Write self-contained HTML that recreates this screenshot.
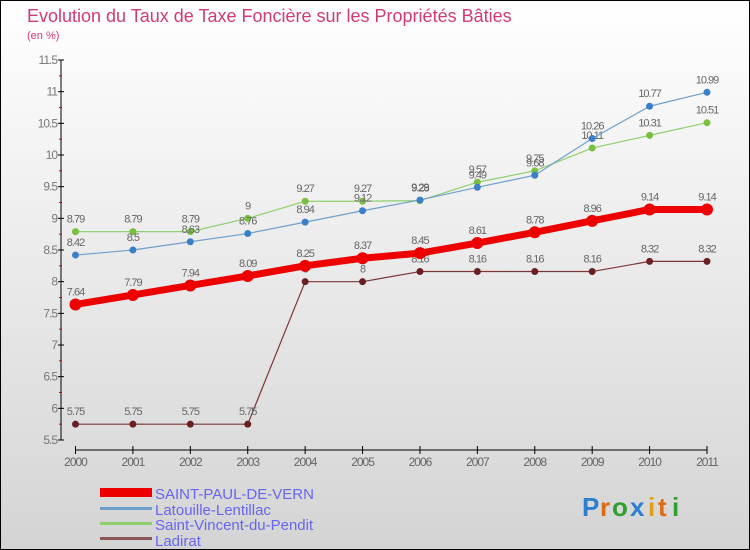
<!DOCTYPE html>
<html><head><meta charset="utf-8"><style>
body{margin:0}
#wrap{width:750px;height:550px;position:relative;overflow:hidden;font-family:"Liberation Sans",sans-serif}
</style></head><body>
<div id="wrap">
<svg id="svg" width="750" height="550" viewBox="0 0 750 550">
<defs><linearGradient id="bg" x1="0" y1="0" x2="0" y2="1"><stop offset="0" stop-color="#ffffff"/><stop offset="1" stop-color="#d4d4d4"/></linearGradient></defs>
<rect x="0.5" y="0.5" width="749" height="549" fill="url(#bg)" stroke="#000"/>
<text x="27" y="22" font-size="18" fill="#d03a78">Evolution du Taux de Taxe Foncière sur les Propriétés Bâties</text>
<text x="27" y="39" font-size="11" fill="#d03a78">(en %)</text>
<g id="axes"></g>
<g id="series"></g>
<g id="legend">
<rect x="100" y="488" width="52" height="9" fill="#ee0000"/>
<text x="155" y="499" font-size="15" fill="#6666ee">SAINT-PAUL-DE-VERN</text>
<rect x="100" y="507" width="52" height="3" fill="#6fa0cc"/>
<text x="155" y="515" font-size="15" fill="#6666ee">Latouille-Lentillac</text>
<rect x="100" y="522" width="52" height="3" fill="#8fd070"/>
<text x="155" y="530" font-size="15" fill="#6666ee">Saint-Vincent-du-Pendit</text>
<rect x="100" y="537" width="52" height="3" fill="#8a5555"/>
<text x="155" y="546" font-size="15" fill="#6666ee">Ladirat</text>
</g>
<g font-size="26" font-weight="bold">
<text x="582" y="516" fill="#2a7fd0">P</text><text x="600" y="516" fill="#e06a10">r</text><text x="612" y="516" fill="#30a030">o</text><text x="630" y="516" fill="#2a7fd0">x</text><text x="648" y="516" fill="#e0a010">i</text><text x="658" y="516" fill="#e06a10">t</text><text x="672" y="516" fill="#30a030">i</text>
</g>
</svg>
</div>
<script>
const years=["2000","2001","2002","2003","2004","2005","2006","2007","2008","2009","2010","2011"];
const yTicks=[5.5,6,6.5,7,7.5,8,8.5,9,9.5,10,10.5,11,11.5];
const saintPaul=[7.64,7.79,7.94,8.09,8.25,8.37,8.45,8.61,8.78,8.96,9.14,9.14];
const latouille=[8.42,8.5,8.63,8.76,8.94,9.12,9.29,9.49,9.68,10.26,10.77,10.99];
const saintVincent=[8.79,8.79,8.79,9,9.27,9.27,9.28,9.57,9.75,10.11,10.31,10.51];
const ladirat=[5.75,5.75,5.75,5.75,8,8,8.16,8.16,8.16,8.16,8.32,8.32];
const NS="http://www.w3.org/2000/svg";
const x0=75.5,x1=707,yMin=5.5,yMax=11.5,py0=440,py1=60;
const X=i=>x0+(x1-x0)*i/(years.length-1);
const Y=v=>py0-(v-yMin)/(yMax-yMin)*(py0-py1);
function mk(tag,attrs,parent){const e=document.createElementNS(NS,tag);for(const k in attrs)e.setAttribute(k,attrs[k]);parent.appendChild(e);return e;}
const axes=document.getElementById('axes');
let e=mk('line',{x1:61,y1:py1,x2:61,y2:py0,stroke:'#000'},axes);


e=mk('line',{x1:x0,y1:450,x2:x1,y2:450,stroke:'#000'},axes);


yTicks.forEach((t,i)=>{
  const y=Y(t);
  mk('line',{x1:58,y1:y,x2:64,y2:y,stroke:'#000'},axes);
  if(i<yTicks.length-1) mk('line',{x1:59,y1:Y(t+0.25),x2:62,y2:Y(t+0.25),stroke:'#e00000'},axes);
  const tx=mk('text',{x:57,y:y+4,'font-size':12,fill:'#777','text-anchor':'end','letter-spacing':'-1'},axes);
  tx.textContent=String(t);
  
  
});
years.forEach((yr,i)=>{
  const x=X(i);
  mk('line',{x1:x,y1:446,x2:x,y2:454,stroke:'#000'},axes);
  const tx=mk('text',{x:x,y:466,'font-size':12,fill:'#666','text-anchor':'middle','letter-spacing':'-1'},axes);
  tx.textContent=yr;
  
  
});
const ser=document.getElementById('series');
function draw(vals,name,color,w,r,dot){
  const g=mk('g',{},ser);
  
  
  const line=mk('polyline',{points:vals.map((v,i)=>X(i)+','+Y(v)).join(' '),fill:'none',stroke:color,'stroke-width':w,'stroke-linejoin':'round'},g);
  
  
  vals.forEach((v,i)=>{
    const c=mk('circle',{cx:X(i),cy:Y(v),r:r,fill:dot},g);
    
    
    const t=mk('text',{x:X(i),y:Y(v)-9,'font-size':11,fill:'#666','text-anchor':'middle','letter-spacing':'-1'},g);
    t.textContent=String(v);
    
    
  });
}
draw(ladirat,'ladirat','#7a3535',1.2,3.5,'#6a2020');
draw(saintVincent,'saint-vincent','#8fd070',1.2,3.5,'#7ac040');
draw(latouille,'latouille','#6fa0cc',1.2,3.5,'#3a80c8');
draw(saintPaul,'saint-paul','#ee0000',7,6,'#ee0000');
</script>
</body></html>
